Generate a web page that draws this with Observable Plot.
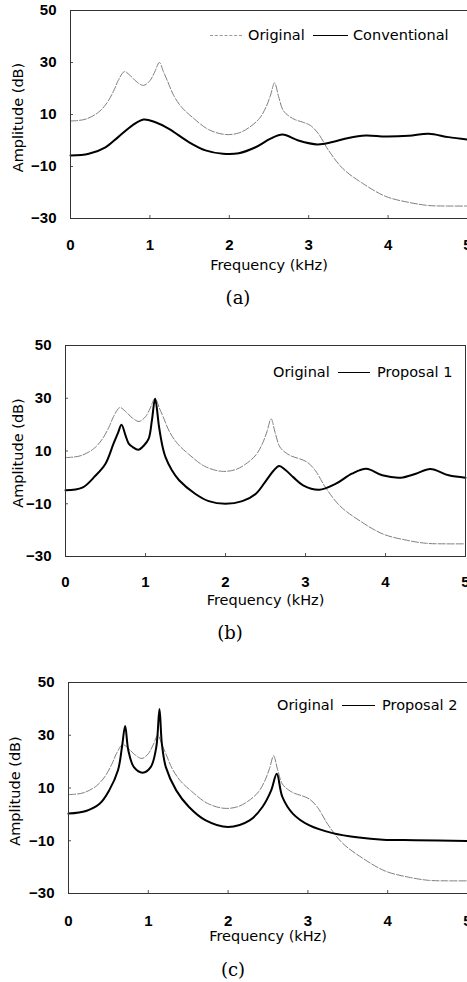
<!DOCTYPE html>
<html><head><meta charset="utf-8">
<script src="https://cdn.jsdelivr.net/npm/d3@7"></script>
<script src="https://cdn.jsdelivr.net/npm/@observablehq/plot@0.6"></script>
<style>
html,body{margin:0;padding:0;background:#fff;overflow:hidden;}
#root{position:relative;width:467px;height:982px;overflow:hidden;}
.panel{position:absolute;left:0;}
.cap{position:absolute;font-family:"DejaVu Serif",serif;font-size:18px;line-height:1;transform:translate(-50%,-50%);white-space:nowrap;}
.leg{position:absolute;font-family:"DejaVu Sans",sans-serif;font-size:14.5px;line-height:1;transform:translateY(-50%);white-space:nowrap;color:#000;}
.sample{position:absolute;height:0;}
</style></head>
<body><div id="root"></div>
<script>
// ---- data ----
const xTicks = [0, 1, 2, 3, 4, 5];
const yTicks = [-30, -10, 10, 30, 50];

const origFreq = [0, 0.1, 0.2, 0.35, 0.46, 0.55, 0.6, 0.68, 0.75, 0.84, 0.92, 1.0, 1.06, 1.12, 1.17, 1.22, 1.3, 1.4, 1.54, 1.74, 1.95, 2.12, 2.25, 2.38, 2.46, 2.52, 2.57, 2.62, 2.68, 2.76, 2.83, 2.93, 3.02, 3.12, 3.25, 3.43, 3.68, 3.97, 4.26, 4.51, 4.75, 5.0];
const origAmp  = [7.5, 7.7, 8.3, 10.8, 14.5, 19.5, 23.0, 26.5, 25.0, 22.4, 21.2, 23.0, 26.3, 30.0, 26.5, 23.0, 17.3, 12.8, 8.8, 4.2, 2.3, 2.9, 5.0, 8.5, 12.7, 17.5, 22.2, 17.0, 11.5, 9.2, 8.0, 7.0, 5.8, 2.7, -3.8, -10.8, -16.5, -21.5, -23.8, -25.0, -25.2, -25.2];

const convFreq = [0, 0.23, 0.44, 0.6, 0.78, 0.92, 1.07, 1.24, 1.49, 1.7, 1.92, 2.12, 2.33, 2.52, 2.67, 2.87, 3.11, 3.3, 3.5, 3.72, 3.97, 4.26, 4.51, 4.76, 5.0];
const convAmp  = [-5.8, -5.1, -2.6, 1.3, 5.8, 8.1, 7.0, 4.5, -0.6, -3.8, -5.1, -4.9, -2.6, 0.7, 2.3, 0.0, -1.5, -0.6, 1.0, 1.9, 1.5, 1.8, 2.6, 1.3, 0.4];

const prop1Freq = [0, 0.21, 0.37, 0.5, 0.6, 0.66, 0.7, 0.75, 0.79, 0.84, 0.91, 0.98, 1.04, 1.08, 1.12, 1.17, 1.21, 1.25, 1.33, 1.42, 1.62, 1.79, 2.0, 2.21, 2.38, 2.51, 2.6, 2.67, 2.75, 2.85, 2.97, 3.17, 3.38, 3.58, 3.76, 3.96, 4.19, 4.38, 4.56, 4.79, 5.0];
const prop1Amp  = [-4.9, -3.9, 0.5, 5.2, 12.8, 17.2, 20.0, 15.9, 12.8, 11.5, 10.5, 12.1, 14.7, 21.6, 29.8, 19.0, 12.1, 7.7, 2.7, -1.1, -6.2, -9.0, -10.0, -9.0, -6.2, -1.1, 2.5, 4.3, 2.8, 0.0, -3.0, -4.7, -2.4, 1.4, 3.3, 0.8, -0.1, 1.4, 3.2, 0.8, -0.1];

const prop2Freq = [0, 0.22, 0.39, 0.51, 0.62, 0.67, 0.71, 0.75, 0.82, 0.93, 1.03, 1.1, 1.14, 1.17, 1.22, 1.35, 1.51, 1.72, 2.0, 2.27, 2.43, 2.54, 2.61, 2.68, 2.81, 3.02, 3.31, 3.64, 3.94, 4.35, 5.0];
const prop2Amp  = [0.3, 1.3, 4.0, 9.1, 16.7, 25.5, 33.5, 24.2, 17.9, 15.8, 17.9, 25.5, 40.0, 26.8, 17.9, 9.1, 2.8, -2.3, -4.8, -2.3, 2.8, 9.1, 15.4, 6.6, 0.3, -4.2, -7.1, -8.8, -9.6, -9.8, -10.1];

const seriesNames = ["Original", "Conventional", "Proposal 1", "Proposal 2"];
const captions = ["(a)", "(b)", "(c)"];

const toRows = (fs, as) => fs.map((f, i) => ({f, a: as[i]}));
const original = toRows(origFreq, origAmp);

// ---- layout ----
const root = document.getElementById("root");
const W = 467;

const panels = [
  {top: 0,   frameTop: 10,  frameBottom: 218, ml: 70, mr: 0, pad: 21, titleDy: 47, ylabX: 17.5, ylabDy: 3,
   main: toRows(convFreq, convAmp), name: seriesNames[1], cap: captions[0], capX: 238, capY: 298,
   leg: {y: 35, dash: [210, 242], orig: 248, line: [313, 348], label: 353}},
  {top: 335, frameTop: 345, frameBottom: 556, ml: 65, mr: 2, pad: 20, titleDy: 44, ylabX: 18, ylabDy: 2,
   main: toRows(prop1Freq, prop1Amp), name: seriesNames[2], cap: captions[1], capX: 230, capY: 633,
   leg: {y: 372, dash: null, orig: 273, line: [338, 370], label: 377}},
  {top: 672, frameTop: 682, frameBottom: 893, ml: 68, mr: 0, pad: 22, titleDy: 43, ylabX: 15, ylabDy: 3,
   main: toRows(prop2Freq, prop2Amp), name: seriesNames[3], cap: captions[2], capX: 233, capY: 970,
   leg: {y: 705, dash: null, orig: 277, line: [342, 375], label: 382}}
];

for (const p of panels) {
  const mt = p.frameTop - p.top;
  const frameH = p.frameBottom - p.frameTop;
  const mb = 62;
  const frameW = W - p.ml - p.mr;
  const chart = Plot.plot({
    width: W,
    height: mt + frameH + mb,
    marginTop: mt, marginBottom: mb, marginLeft: p.ml, marginRight: p.mr,
    x: {domain: [0, 5]},
    y: {domain: [-30, 50]},
    style: {fontFamily: "'Liberation Sans', Arial, sans-serif", fontSize: "15px", color: "#000", background: "transparent", overflow: "visible"},
    marks: [
      Plot.axisX(xTicks, {tickSize: 0, tickPadding: p.pad, label: null, fontWeight: "bold", fontSize: 15, tickFormat: d3.format("d")}),
      Plot.axisY(yTicks, {tickSize: 0, tickPadding: 14, label: null, fontWeight: "bold", fontSize: 15}),
      Plot.ruleX([1, 2, 3, 4], {insetTop: frameH - 3, stroke: "#555"}),
      Plot.ruleY([-10, 10, 30], {insetRight: frameW - 3, stroke: "#555"}),
      Plot.line(original, {x: "f", y: "a", stroke: "#808080", strokeWidth: 1, strokeDasharray: "7 2", curve: "catmull-rom"}),
      Plot.line(p.main, {x: "f", y: "a", stroke: "#000", strokeWidth: 2, curve: "catmull-rom"}),
      Plot.frame({stroke: "#333", strokeWidth: 1}),
      Plot.text(["Frequency (kHz)"], {frameAnchor: "bottom", dy: p.titleDy, lineAnchor: "middle", textAnchor: "middle",
        fontFamily: "'DejaVu Sans', sans-serif", fontSize: 14.5, fontWeight: "normal", fill: "#000"}),
      Plot.text(["Amplitude (dB)"], {frameAnchor: "left", rotate: -90, dx: -(p.ml - p.ylabX), dy: p.ylabDy,
        lineAnchor: "middle", textAnchor: "middle",
        fontFamily: "'DejaVu Sans', sans-serif", fontSize: 14.5, fontWeight: "normal", fill: "#000"})
    ]
  });
  chart.classList.add("panel");
  chart.style.top = p.top + "px";
  root.appendChild(chart);

  // caption
  const cap = document.createElement("div");
  cap.className = "cap";
  cap.textContent = p.cap;
  cap.style.left = p.capX + "px";
  cap.style.top = p.capY + "px";
  root.appendChild(cap);

  // legend
  const L = p.leg;
  if (L.dash) {
    const d = document.createElement("div");
    d.className = "sample";
    d.style.left = L.dash[0] + "px";
    d.style.width = (L.dash[1] - L.dash[0]) + "px";
    d.style.top = L.y + "px";
    d.style.borderTop = "1px dashed #999";
    root.appendChild(d);
  }
  const t1 = document.createElement("div");
  t1.className = "leg";
  t1.textContent = seriesNames[0];
  t1.style.left = L.orig + "px";
  t1.style.top = L.y + "px";
  root.appendChild(t1);
  const s = document.createElement("div");
  s.className = "sample";
  s.style.left = L.line[0] + "px";
  s.style.width = (L.line[1] - L.line[0]) + "px";
  s.style.top = (L.y - 0.5) + "px";
  s.style.borderTop = "1.5px solid #000";
  root.appendChild(s);
  const t2 = document.createElement("div");
  t2.className = "leg";
  t2.textContent = p.name;
  t2.style.left = L.label + "px";
  t2.style.top = L.y + "px";
  root.appendChild(t2);
}
</script>
</body></html>
